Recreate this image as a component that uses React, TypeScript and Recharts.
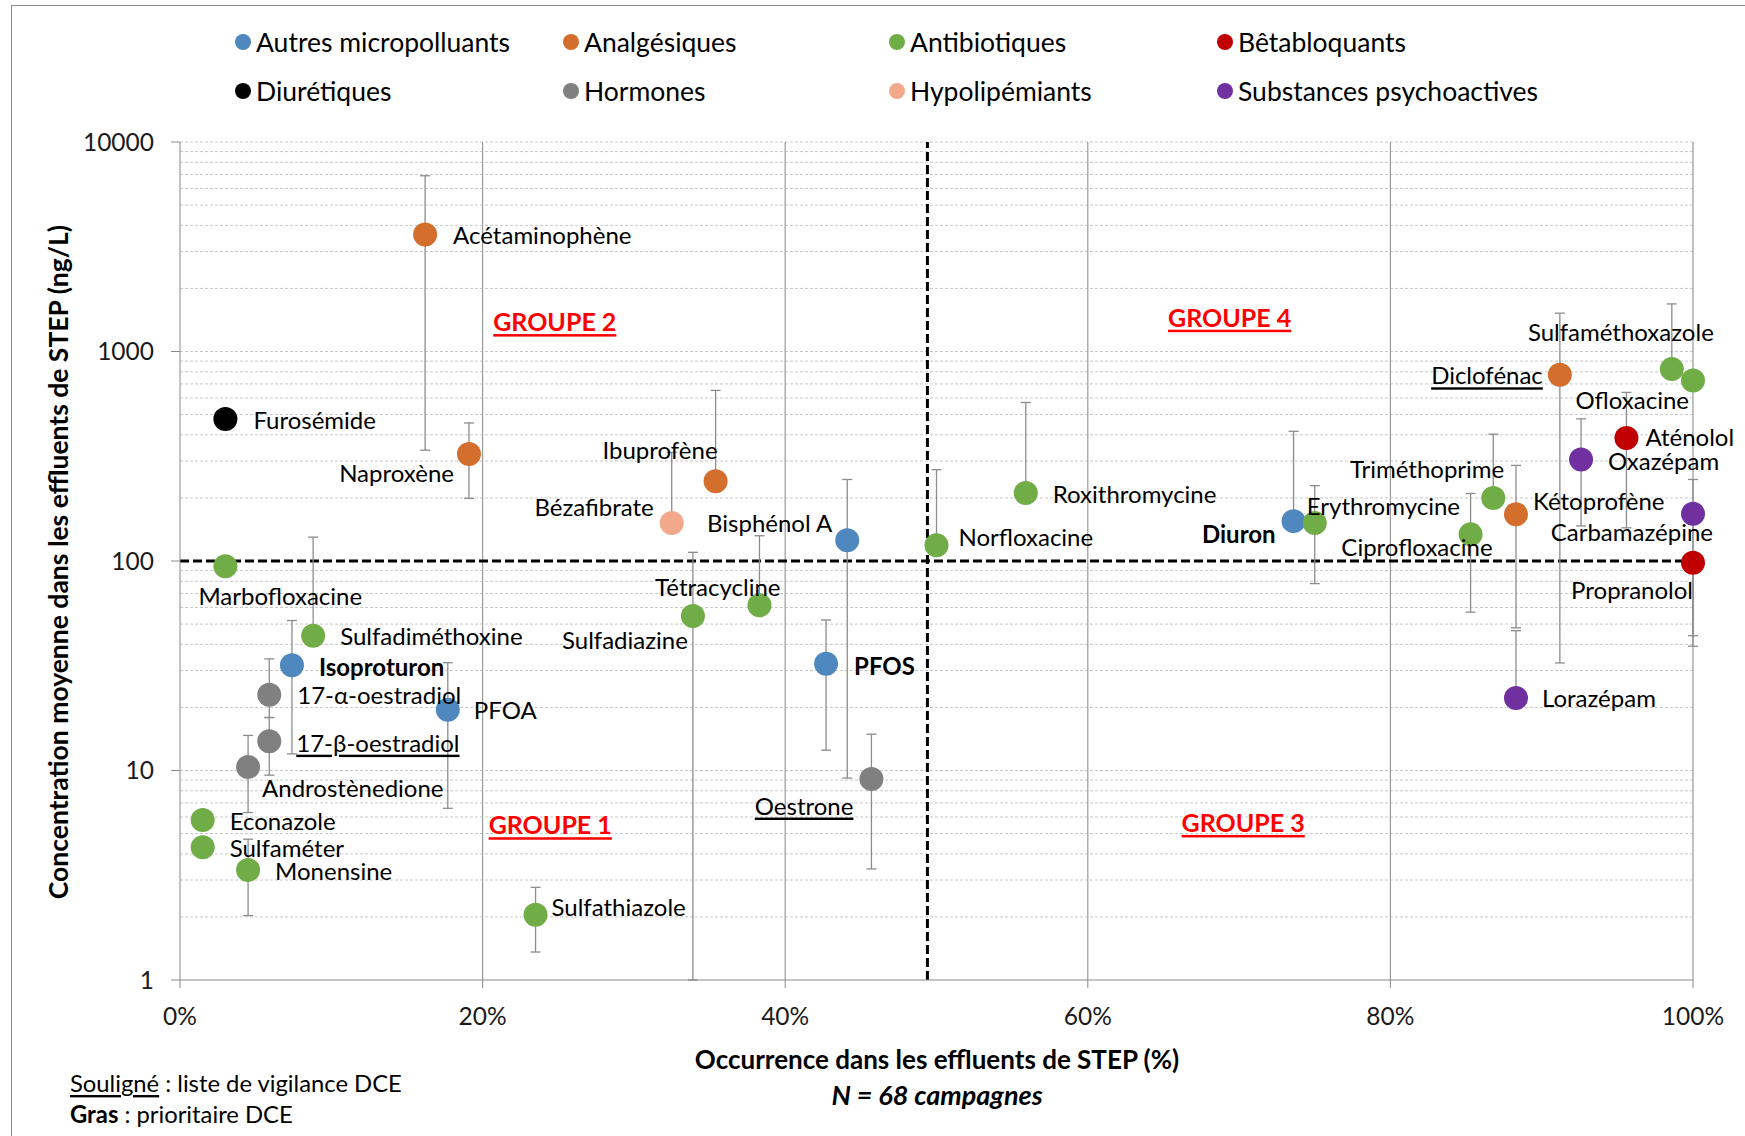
import { ScatterChart, Scatter, XAxis, YAxis, ErrorBar, ReferenceLine, ReferenceDot, Legend } from 'recharts';

const FONT = 'Lato, "Open Sans", sans-serif';

const CATEGORIES = [
  'Autres micropolluants', 'Analgésiques', 'Antibiotiques', 'Bêtabloquants',
  'Diurétiques', 'Hormones', 'Hypolipémiants', 'Substances psychoactives',
];
const CATEGORY_COLORS = ['#4f88be', '#d46e2c', '#70ad47', '#c00000', '#000000', '#808080', '#f2a98b', '#7030a0'];

const SUBSTANCES = [
  'Acétaminophène', 'Naproxène', 'Ibuprofène', 'Kétoprofène', 'Diclofénac',
  'Furosémide',
  'Marbofloxacine', 'Sulfadiméthoxine', 'Econazole', 'Sulfaméter', 'Monensine', 'Sulfathiazole',
  'Sulfadiazine', 'Tétracycline', 'Norfloxacine', 'Roxithromycine', 'Erythromycine', 'Ciprofloxacine',
  'Triméthoprime', 'Sulfaméthoxazole', 'Ofloxacine',
  'Bisphénol A', 'Isoproturon', 'PFOA', 'PFOS', 'Diuron',
  '17-α-oestradiol', '17-β-oestradiol', 'Androstènedione', 'Oestrone',
  'Bézafibrate',
  'Aténolol', 'Propranolol',
  'Oxazépam', 'Carbamazépine', 'Lorazépam',
];
// index into CATEGORIES
const SUBSTANCE_CATEGORY = [
  1, 1, 1, 1, 1,
  4,
  2, 2, 2, 2, 2, 2,
  2, 2, 2, 2, 2, 2,
  2, 2, 2,
  0, 0, 0, 0, 0,
  5, 5, 5, 5,
  6,
  3, 3,
  7, 7, 7,
];
// occurrence (%)
const OCCURRENCE = [
  16.2, 19.1, 35.4, 88.3, 91.2,
  3.0,
  3.0, 8.8, 1.5, 1.5, 4.5, 23.5,
  33.9, 38.3, 50.0, 55.9, 75.0, 85.3,
  86.8, 98.6, 100,
  44.1, 7.4, 17.7, 42.7, 73.6,
  5.9, 5.9, 4.5, 45.7,
  32.5,
  95.6, 100,
  92.6, 100, 88.3,
];
// mean concentration (ng/L)
const CONCENTRATION = [
  3620, 324, 240, 167, 774,
  476,
  94.5, 44, 5.8, 4.3, 3.35, 2.05,
  54.6, 61.5, 119, 211, 152, 134,
  200, 824, 727,
  125.5, 31.8, 19.5, 32.3, 155,
  23, 13.8, 10.4, 9.1,
  152,
  386, 98.2,
  305, 168, 22.2,
];
// error bar bounds (ng/L)
const BAR_LOW = [
  338, 199, 240, 48, 32.6,
  476,
  94.5, 44, 5.8, 4.3, 2.03, 1.36,
  1, 61.5, 119, 211, 78, 57,
  200, 824, 727,
  9.2, 12.0, 6.6, 12.5, 155,
  17.9, 9.5, 6.3, 3.39,
  152,
  144, 39.2,
  147, 44, 22.2,
];
const BAR_HIGH = [
  6900, 456, 652, 286, 1524,
  476,
  94.5, 130, 5.8, 4.3, 4.7, 2.77,
  110, 132, 273, 571, 229, 210,
  403, 1687, 727,
  245, 52, 32.7, 52.3, 416,
  34.1, 17.9, 14.7, 14.9,
  330,
  638, 98.2,
  477, 245, 46.5,
];

const X_TICKS = [0, 20, 40, 60, 80, 100];
const Y_TICKS = [1, 10, 100, 1000, 10000];
const THRESHOLD_OCCURRENCE = 49.4;
const THRESHOLD_CONCENTRATION = 100;

const GROUPS = ['GROUPE 1', 'GROUPE 2', 'GROUPE 3', 'GROUPE 4'];
const GROUP_X = [20.4, 20.7, 66.2, 65.3];
const GROUP_Y = [5.54, 1397, 5.68, 1466];

// label placement (px offset from the point, anchor)
const LABEL_POS: Record<string, [number, number, 'start' | 'end']> = {
  'Acétaminophène': [28, 0, 'start'],
  'Furosémide': [28, 0, 'start'],
  'Naproxène': [-15, 18, 'end'],
  'Marbofloxacine': [-27, 29, 'start'],
  'Sulfadiméthoxine': [27, 0, 'start'],
  'Isoproturon': [27, 1, 'start'],
  '17-α-oestradiol': [28, 0, 'start'],
  '17-β-oestradiol': [27, 1, 'start'],
  'Androstènedione': [14, 21, 'start'],
  'PFOA': [26, 0, 'start'],
  'Econazole': [27, 0, 'start'],
  'Sulfaméter': [27, 0, 'start'],
  'Monensine': [27, 0, 'start'],
  'Sulfathiazole': [16, -8, 'start'],
  'Ibuprofène': [2, -32, 'end'],
  'Bézafibrate': [-18, -16, 'end'],
  'Bisphénol A': [-15, -18, 'end'],
  'Tétracycline': [21, -19, 'end'],
  'Sulfadiazine': [-5, 23, 'end'],
  'PFOS': [28, 2, 'start'],
  'Oestrone': [-18, 26, 'end'],
  'Norfloxacine': [22, -9, 'start'],
  'Roxithromycine': [27, 0, 'start'],
  'Diuron': [-18, 12, 'end'],
  'Erythromycine': [-8, -17, 'start'],
  'Ciprofloxacine': [22, 12, 'end'],
  'Triméthoprime': [11, -29, 'end'],
  'Kétoprofène': [17, -14, 'start'],
  'Diclofénac': [-17, 0, 'end'],
  'Sulfaméthoxazole': [42, -38, 'end'],
  'Ofloxacine': [-4, 19, 'end'],
  'Aténolol': [19, -2, 'start'],
  'Oxazépam': [27, 1, 'start'],
  'Carbamazépine': [20, 18, 'end'],
  'Propranolol': [0, 27, 'end'],
  'Lorazépam': [26, 0, 'start'],
};
const BOLD = ['Isoproturon', 'PFOS', 'Diuron'];
const UNDERLINED = ['17-β-oestradiol', 'Oestrone', 'Diclofénac'];

const W = 1745;
const H = 1136;
const GRID = '#c8c8c8';
const AXIS = '#8a8a8a';

const points = SUBSTANCES.map((name, i) => ({
  name,
  cat: SUBSTANCE_CATEGORY[i],
  x: OCCURRENCE[i],
  y: CONCENTRATION[i],
  err: [CONCENTRATION[i] - BAR_LOW[i], BAR_HIGH[i] - CONCENTRATION[i]],
}));

const minorY: number[] = [];
[1, 10, 100, 1000].forEach((d) => {
  for (let k = 2; k <= 9; k++) minorY.push(d * k);
});

function Dot(props: any) {
  const { cx, cy, fill } = props;
  if (cx == null || cy == null) return null;
  return <circle cx={cx} cy={cy} r={12} fill={fill} />;
}

function PointLabel(props: any) {
  const { cx, cy, payload } = props;
  if (cx == null || cy == null) return null;
  const name = payload.name as string;
  const [dx, dy, anchor] = LABEL_POS[name] ?? [26, 0, 'start'];
  return (
    <text
      x={cx + dx}
      y={cy + dy}
      textAnchor={anchor}
      dominantBaseline="central"
      fontSize={24}
      fontFamily={FONT}
      fontWeight={BOLD.includes(name) ? 700 : 400}
      textDecoration={UNDERLINED.includes(name) ? 'underline' : undefined}
      fill="#000"
    >
      {name}
    </text>
  );
}

function LegendGrid() {
  const colX = [243, 571, 897, 1225];
  const rowY = [42, 91];
  return (
    <div style={{ position: 'relative', width: W, height: 120 }}>
      {CATEGORIES.map((c, i) => (
        <div
          key={c}
          style={{
            position: 'absolute',
            left: colX[i % 4] - 8,
            top: rowY[Math.floor(i / 4)] - 16,
            height: 32,
            display: 'flex',
            alignItems: 'center',
            fontFamily: FONT,
            fontSize: 26.5,
            color: '#000',
            whiteSpace: 'nowrap',
          }}
        >
          <span style={{ width: 16, height: 16, borderRadius: 8, background: CATEGORY_COLORS[i], marginRight: 5 }} />
          {c}
        </div>
      ))}
    </div>
  );
}

export default function App() {
  return (
    <div style={{ position: 'absolute', left: 0, top: 0, width: W, height: H, overflow: 'hidden', background: '#fff' }}>
      <div style={{ position: 'absolute', left: 11, top: 5, width: W, height: H, border: '1.5px solid #8c8c8c' }} />
      <ScatterChart width={W} height={H} margin={{ top: 142, right: 52, bottom: 100, left: 100 }}>
        {minorY.concat([10, 1000, 10000]).map((v) => (
          <ReferenceLine key={'h' + v} y={v} stroke={GRID} strokeWidth={1} strokeDasharray="3 2" />
        ))}
        {X_TICKS.slice(1).map((v) => (
          <ReferenceLine key={'v' + v} x={v} stroke="#9a9a9a" strokeWidth={1.2} />
        ))}
        <XAxis
          type="number"
          dataKey="x"
          domain={[0, 100]}
          ticks={X_TICKS}
          tickFormatter={(v) => `${v}%`}
          height={56}
          stroke={AXIS}
          tickSize={8}
          tickMargin={20}
          tick={{ fontSize: 24.5, fontFamily: FONT, fill: '#1a1a1a' }}
        />
        <YAxis
          type="number"
          dataKey="y"
          scale="log"
          domain={[1, 10000]}
          ticks={Y_TICKS}
          width={80}
          stroke={AXIS}
          tickSize={9}
          tickMargin={17}
          tick={{ fontSize: 24.5, fontFamily: FONT, fill: '#1a1a1a' }}
        />
        <ReferenceLine y={THRESHOLD_CONCENTRATION} stroke="#000" strokeWidth={3} strokeDasharray="9 4" />
        <ReferenceLine x={THRESHOLD_OCCURRENCE} stroke="#000" strokeWidth={3} strokeDasharray="9 4" />
        {GROUPS.map((g, i) => (
          <ReferenceDot
            key={g}
            x={GROUP_X[i]}
            y={GROUP_Y[i]}
            r={0}
            ifOverflow="visible"
            shape={(p: any) => (
              <text
                x={p.cx}
                y={p.cy}
                dominantBaseline="central"
                fontSize={25}
                fontWeight={700}
                fontFamily={FONT}
                fill="#ff0000"
                textDecoration="underline"
              >
                {g}
              </text>
            )}
          />
        ))}
        {CATEGORIES.map((c, ci) => (
          <Scatter
            key={c}
            name={c}
            data={points.filter((p) => p.cat === ci)}
            fill={CATEGORY_COLORS[ci]}
            shape={<Dot />}
            isAnimationActive={false}
          >
            <ErrorBar dataKey="err" direction="y" width={5} stroke="#8c8c8c" strokeWidth={1.3} />
          </Scatter>
        ))}
        <Scatter
          name="labels"
          data={points}
          fill="none"
          shape={<PointLabel />}
          legendType="none"
          isAnimationActive={false}
        />
        <Legend
          layout="vertical"
          align="center"
          verticalAlign="middle"
          wrapperStyle={{ top: 0, left: 0, width: W, height: 120 }}
          content={() => <LegendGrid />}
        />
      </ScatterChart>
      <svg width={W} height={H} style={{ position: 'absolute', left: 0, top: 0, pointerEvents: 'none' }}>
        <text
          x={58}
          y={562}
          transform="rotate(-90 58 562)"
          textAnchor="middle"
          dominantBaseline="central"
          fontSize={26.5}
          fontWeight={700}
          fontFamily={FONT}
        >
          Concentration moyenne dans les effluents de STEP (ng/L)
        </text>
        <text x={937} y={1059} textAnchor="middle" dominantBaseline="central" fontSize={26} fontWeight={700} fontFamily={FONT}>
          Occurrence dans les effluents de STEP (%)
        </text>
        <text
          x={937}
          y={1094}
          textAnchor="middle"
          dominantBaseline="central"
          fontSize={27}
          fontWeight={700}
          fontStyle="italic"
          fontFamily={FONT}
        >
          N = 68 campagnes
        </text>
        <text x={70} y={1083} dominantBaseline="central" fontSize={23.8} fontFamily={FONT}>
          <tspan textDecoration="underline">Souligné</tspan> : liste de vigilance DCE
        </text>
        <text x={70} y={1114} dominantBaseline="central" fontSize={23.8} fontFamily={FONT}>
          <tspan fontWeight={700}>Gras</tspan> : prioritaire DCE
        </text>
      </svg>
    </div>
  );
}
